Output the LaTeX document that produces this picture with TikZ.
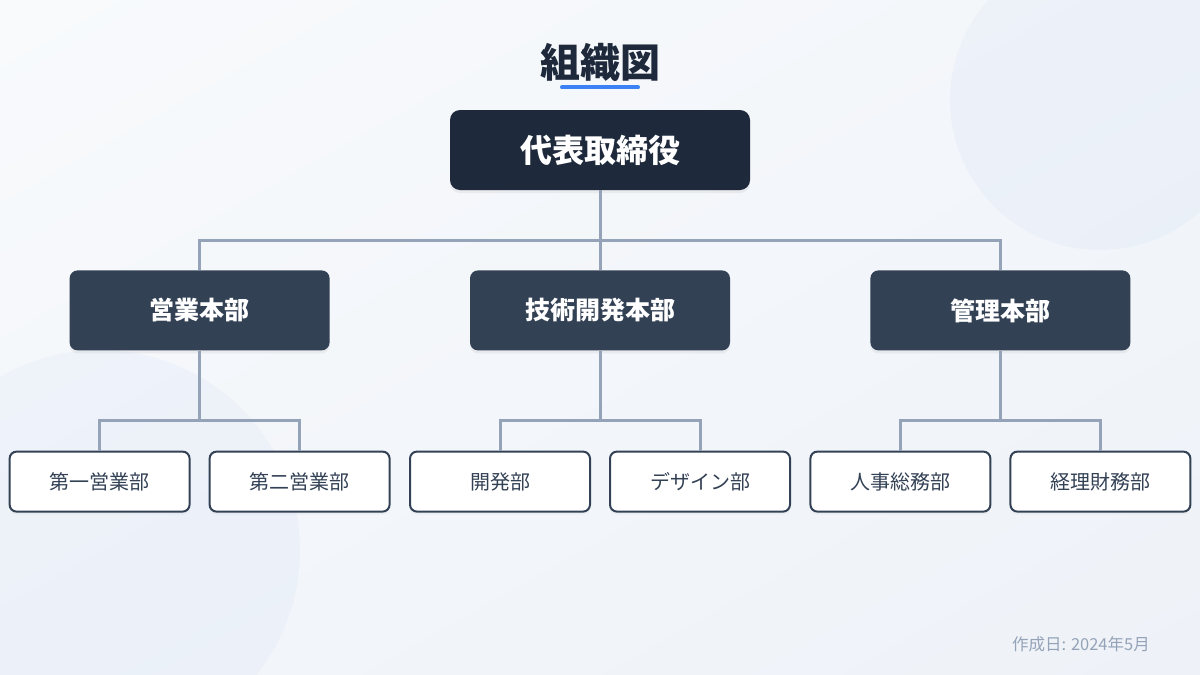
\documentclass[tikz,border=0pt]{standalone}
\usepackage{fontspec}
\setmainfont{Noto Sans CJK JP}
\usetikzlibrary{positioning, shadows, shadings}
\definecolor{ink}{HTML}{1E293B}
\definecolor{slate}{HTML}{334155}
\definecolor{wire}{HTML}{94A3B8}
\definecolor{accent}{HTML}{3B82F6}
\definecolor{bgtl}{HTML}{F8FAFC}
\definecolor{bgbr}{HTML}{EEF2F8}
\definecolor{bgmid}{HTML}{F3F6FA}
\tikzset{
  topbox/.style={rounded corners=10pt, fill=ink, minimum width=300pt, minimum height=80pt,
                 inner sep=0pt, text=white, font=\fontsize{32}{38}\selectfont\bfseries,
                 drop shadow={opacity=0.10, shadow xshift=0pt, shadow yshift=-3pt}},
  deptbox/.style={rounded corners=8pt, fill=slate, minimum width=260pt, minimum height=80pt,
                  inner sep=0pt, text=white, font=\fontsize{25}{30}\selectfont\bfseries,
                  drop shadow={opacity=0.10, shadow xshift=0pt, shadow yshift=-3pt}},
  unitbox/.style={rounded corners=7pt, draw=slate, line width=2pt, fill=white,
                  minimum width=180pt, minimum height=60pt, inner sep=0pt, text=slate,
                  font=\fontsize{20}{24}\selectfont,
                  drop shadow={opacity=0.06, shadow xshift=0pt, shadow yshift=-3pt}},
  conn/.style={draw=wire, line width=3pt, line join=miter},
}

\begin{document}
\begin{tikzpicture}[x=1pt, y=-1pt]
  \useasboundingbox (0,0) rectangle (1200,675);
  % background
  \shade[upper left=bgtl, upper right=bgmid, lower left=bgmid, lower right=bgbr]
    (0,0) rectangle (1200,675);
  \fill[accent, opacity=0.035] (1100,100) circle[radius=150pt];
  \fill[accent, opacity=0.035] (100,550) circle[radius=200pt];

  % title
  \node[inner sep=0pt, text=ink, font=\fontsize{40}{48}\selectfont\bfseries] (title) at (600,62) {組織図};
  \draw[accent, line width=4pt, line cap=round]
    ([xshift=-38pt,yshift=-6pt]title.south) -- ([xshift=38pt,yshift=-6pt]title.south);

  % boxes
  \node[topbox] (ceo) at (600,150) {代表取締役};
  \node[deptbox, below=80pt of ceo] (tech) {技術開発本部};
  \node[deptbox, left=140pt of tech] (sales) {営業本部};
  \node[deptbox, right=140pt of tech] (admin) {管理本部};

  \node[unitbox, below=100pt of sales, xshift=-100pt] (sales1) {第一営業部};
  \node[unitbox, below=100pt of sales, xshift=100pt] (sales2) {第二営業部};
  \node[unitbox, below=100pt of tech, xshift=-100pt] (dev) {開発部};
  \node[unitbox, below=100pt of tech, xshift=100pt] (design) {デザイン部};
  \node[unitbox, below=100pt of admin, xshift=-100pt] (hr) {人事総務部};
  \node[unitbox, below=100pt of admin, xshift=100pt] (acct) {経理財務部};

  % connectors
  \draw[conn] (ceo.south) -- ++(0,50) coordinate (jc);
  \draw[conn] (sales.north) |- (jc) -| (admin.north);
  \draw[conn] (jc) -- (tech.north);
  \foreach \d/\a/\b in {sales/sales1/sales2, tech/dev/design, admin/hr/acct}{
    \draw[conn] (\d.south) -- ++(0,70) coordinate (j\d);
    \draw[conn] (\a.north) |- (j\d) -| (\b.north);
  }

  % footer
  \node[anchor=east, inner sep=0pt, text=wire, font=\fontsize{16.5}{20}\selectfont] (date) at (1150,644) {作成日: 2024年5月};
\end{tikzpicture}
\end{document}
